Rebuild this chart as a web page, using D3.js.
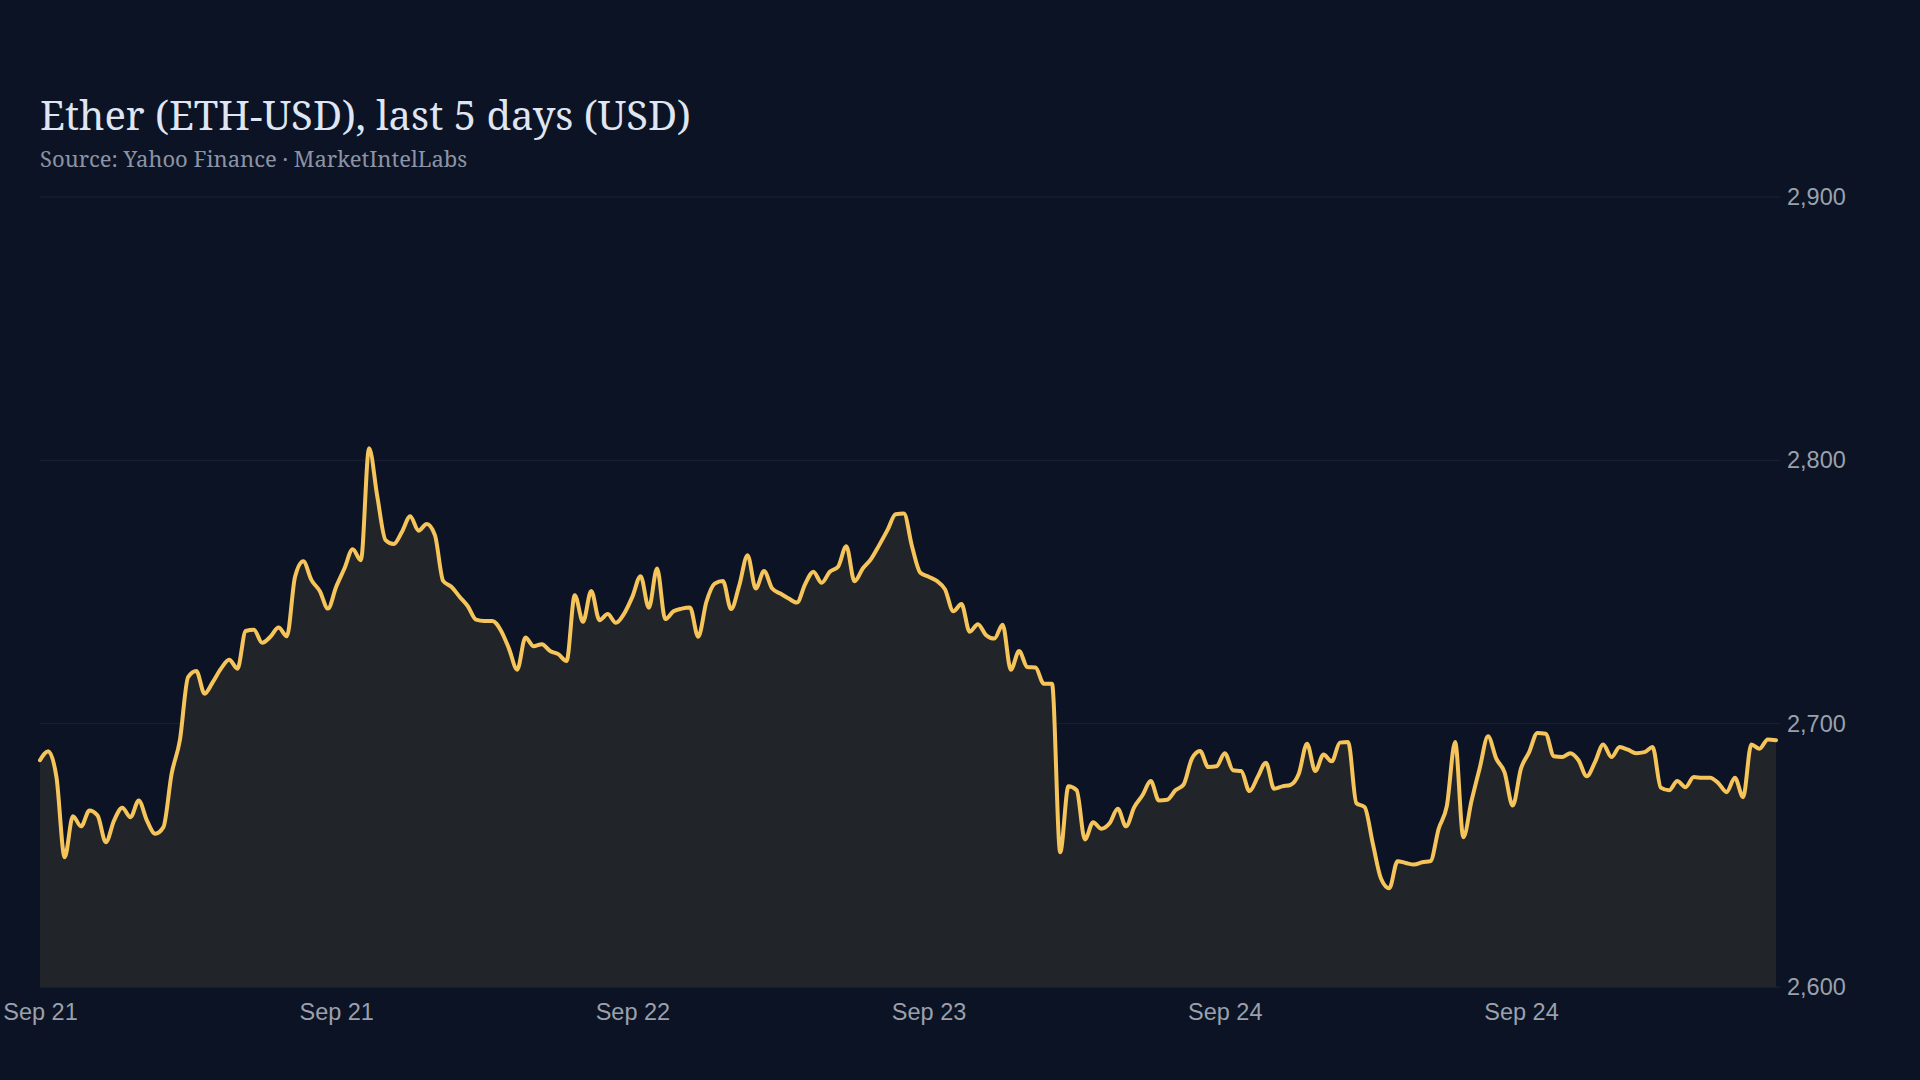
<!DOCTYPE html>
<html lang="en">
<head>
    <meta charset="UTF-8">
    <title>Ether (ETH-USD), last 5 days (USD)</title>
    <script src="https://d3js.org/d3.v7.min.js"></script>
    <style>
        html, body { margin: 0; padding: 0; background: #0c1324; }
        svg { display: block; }
        .title { font-family: "Noto Serif", "DejaVu Serif", serif; fill: #dfe5f2; }
        .subtitle { font-family: "Noto Serif", "DejaVu Serif", serif; fill: #8b93a5; }
        .axis text { font-family: "Liberation Sans", Arial, sans-serif; fill: #9aa1ad; }
        .grid line { stroke: #1f2733; stroke-width: 1; }
    </style>
</head>
<body>
<svg id="chart" width="1920" height="1080"></svg>

<script>
// half-hourly ETH-USD closes
const prices = [
    2686.1, 2689.5, 2679.7, 2649.3, 2664.8, 2661.0, 2667.0, 2665.1, 2655.0, 2663.2,
    2668.1, 2664.5, 2670.8, 2663.2, 2658.2, 2660.7, 2681.0, 2693.7, 2717.7, 2720.0,
    2711.4, 2715.8, 2720.9, 2724.3, 2720.9, 2735.2, 2735.7, 2730.7, 2733.0, 2736.5,
    2733.2, 2755.8, 2761.7, 2754.5, 2750.4, 2743.7, 2752.0, 2758.9, 2766.2, 2762.1,
    2804.6, 2786.2, 2769.7, 2768.2, 2772.9, 2778.8, 2773.3, 2775.8, 2771.6, 2754.2,
    2752.0, 2748.2, 2744.6, 2739.5, 2739.0, 2739.0, 2735.5, 2728.5, 2720.5, 2732.7,
    2729.4, 2730.2, 2727.6, 2726.4, 2723.8, 2748.8, 2738.7, 2750.4, 2739.3, 2741.6,
    2738.3, 2741.8, 2748.2, 2756.0, 2744.0, 2758.9, 2739.7, 2742.7, 2743.7, 2744.1,
    2733.0, 2746.3, 2753.2, 2754.2, 2743.5, 2752.6, 2764.0, 2751.3, 2758.0, 2751.3,
    2749.4, 2747.5, 2746.0, 2753.0, 2757.7, 2753.5, 2757.7, 2759.6, 2767.4, 2754.1,
    2758.9, 2762.5, 2767.8, 2773.5, 2779.5, 2779.8, 2767.2, 2757.3, 2755.8, 2754.2,
    2751.0, 2742.7, 2745.4, 2734.9, 2737.8, 2733.6, 2732.3, 2737.6, 2720.5, 2727.6,
    2721.5, 2721.3, 2715.2, 2715.2, 2651.2, 2676.2, 2674.7, 2656.0, 2662.6, 2660.1,
    2662.2, 2667.7, 2661.0, 2668.3, 2672.8, 2678.2, 2670.8, 2671.1, 2674.7, 2676.9,
    2686.7, 2689.6, 2683.5, 2683.8, 2688.8, 2682.3, 2682.0, 2674.4, 2679.7, 2685.2,
    2675.3, 2676.2, 2676.8, 2681.0, 2692.4, 2682.0, 2688.3, 2685.7, 2692.8, 2693.0,
    2669.8, 2668.3, 2654.4, 2641.1, 2637.5, 2647.8, 2647.1, 2646.5, 2647.4, 2647.8,
    2660.1, 2668.9, 2693.0, 2656.9, 2670.8, 2683.3, 2695.2, 2686.7, 2681.6, 2668.9,
    2682.9, 2689.2, 2696.5, 2696.2, 2687.6, 2687.3, 2688.8, 2686.1, 2680.0, 2685.4,
    2692.1, 2687.3, 2691.1, 2690.1, 2688.8, 2689.2, 2691.1, 2675.7, 2674.7, 2678.2,
    2675.9, 2679.7, 2679.5, 2679.5, 2677.4, 2674.0, 2679.5, 2672.1, 2692.1, 2690.5,
    2694.0, 2693.7
];

// x ticks: every 36 bars (18 hours)
const tickIndex = [0, 36, 72, 108, 144, 180];
const tickLabels = ["Sep 21", "Sep 21", "Sep 22", "Sep 23", "Sep 24", "Sep 24"];

// y ticks
const yTicks = [2600, 2700, 2800, 2900];

const svg = d3.select("#chart");
const plotLeft = 40, plotRight = 1776, plotTop = 197, plotBottom = 987;

const x = d3.scaleLinear().domain([0, prices.length - 1]).range([plotLeft, plotRight]);
const y = d3.scaleLinear().domain([2600, 2900]).range([plotBottom, plotTop]);

// title
svg.append("text").attr("class", "title")
    .attr("x", 40).attr("y", 130)
    .attr("font-size", 40)
    .text("Ether (ETH-USD), last 5 days (USD)");

svg.append("text").attr("class", "subtitle")
    .attr("x", 40).attr("y", 167)
    .attr("font-size", 22)
    .text("Source: Yahoo Finance · MarketIntelLabs");

// area + line
const area = d3.area()
    .x((d, i) => x(i))
    .y0(y(2600))
    .y1(d => y(d))
    .curve(d3.curveMonotoneX);

const line = d3.line()
    .x((d, i) => x(i))
    .y(d => y(d))
    .curve(d3.curveMonotoneX);

svg.append("path")
    .datum(prices)
    .attr("d", area)
    .attr("fill", "#212429");

// gridlines drawn over the area so they show through faintly
const grid = svg.append("g").attr("class", "grid");
grid.selectAll("line")
    .data(yTicks)
    .enter().append("line")
    .attr("x1", plotLeft).attr("x2", plotRight + 4)
    .attr("y1", d => y(d)).attr("y2", d => y(d))
    .attr("stroke-opacity", d => d === 2600 ? 1 : 0.8);

svg.append("path")
    .datum(prices)
    .attr("d", line)
    .attr("fill", "none")
    .attr("stroke", "#f5c45a")
    .attr("stroke-width", 4)
    .attr("stroke-linejoin", "round")
    .attr("stroke-linecap", "round");

// y axis on the right
const yAxis = d3.axisRight(y)
    .tickValues(yTicks)
    .tickFormat(d3.format(","))
    .tickSize(0)
    .tickPadding(0);

svg.append("g").attr("class", "axis")
    .attr("transform", `translate(${plotRight + 11},0)`)
    .call(yAxis)
    .call(g => g.select(".domain").remove())
    .selectAll("text").attr("font-size", 23.5);

// x axis
const xAxis = d3.axisBottom(x)
    .tickValues(tickIndex)
    .tickFormat((d, i) => tickLabels[i])
    .tickSize(0)
    .tickPadding(0);

svg.append("g").attr("class", "axis")
    .attr("transform", `translate(0,${plotBottom + 16})`)
    .call(xAxis)
    .call(g => g.select(".domain").remove())
    .selectAll("text").attr("font-size", 23.5);
</script>
</body>
</html>
